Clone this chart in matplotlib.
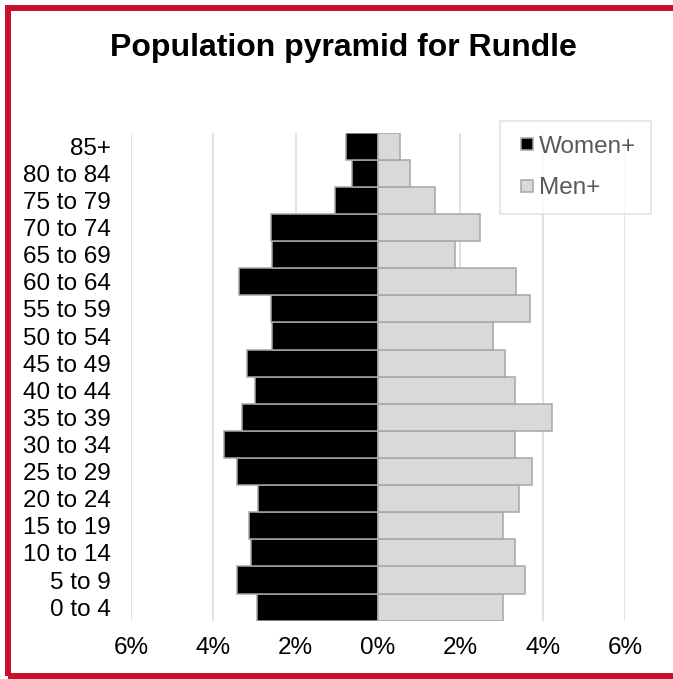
import numpy as np
import matplotlib.pyplot as plt
from matplotlib.patches import Rectangle
from matplotlib.lines import Line2D

plt.rcParams['font.family'] = ['Liberation Sans', 'DejaVu Sans']

# age groups from youngest (bottom) to oldest (top)
age_groups = ["0 to 4", "5 to 9", "10 to 14", "15 to 19", "20 to 24", "25 to 29",
              "30 to 34", "35 to 39", "40 to 44", "45 to 49", "50 to 54", "55 to 59",
              "60 to 64", "65 to 69", "70 to 74", "75 to 79", "80 to 84", "85+"]
women = [2.95, 3.42, 3.08, 3.13, 2.91, 3.42, 3.74, 3.31, 2.99, 3.18,
         2.57, 2.61, 3.37, 2.57, 2.61, 1.05, 0.63, 0.77]
men = [3.04, 3.57, 3.33, 3.04, 3.42, 3.75, 3.33, 4.23, 3.33, 3.08,
       2.79, 3.70, 3.36, 1.86, 2.47, 1.39, 0.77, 0.53]
xticks = [-6, -4, -2, 0, 2, 4, 6]

fig = plt.figure(figsize=(6.73, 6.79), dpi=100)
ax = fig.add_axes([131 / 673, 1 - 620.7 / 679, 494 / 673, 488 / 679])

y = np.arange(len(age_groups))
ax.barh(y, [-w for w in women], height=1.0, color="black", edgecolor="#A6A6A6",
        linewidth=1.1, zorder=3)
ax.barh(y, men, height=1.0, color="#D9D9D9", edgecolor="#A6A6A6",
        linewidth=1.1, zorder=3)

ax.set_xlim(-6, 6)
ax.set_ylim(-0.5, len(age_groups) - 0.5)
ax.set_xticks(xticks)
ax.set_xticklabels([f"{abs(t)}%" for t in xticks], fontsize=17.5)
ax.set_yticks(y)
ax.set_yticklabels(age_groups, fontsize=17.5)
ax.tick_params(length=0)
ax.tick_params(axis="y", pad=14.4)
ax.tick_params(axis="x", pad=12)
ax.grid(True, axis="x", color="#D9D9D9", linewidth=1.1, zorder=0)
for s in ax.spines.values():
  s.set_visible(False)

handles = [Line2D([], [], linestyle="none", marker="s", markersize=8,
                  markerfacecolor="black", markeredgecolor="#A6A6A6", markeredgewidth=1.1),
           Line2D([], [], linestyle="none", marker="s", markersize=8,
                  markerfacecolor="#D9D9D9", markeredgecolor="#A6A6A6", markeredgewidth=1.1)]
leg = ax.legend(handles, ["Women+", "Men+"], loc="upper right",
                bbox_to_anchor=(651 / 673, 1 - 121 / 679),
                bbox_transform=fig.transFigure, fontsize=17.5, frameon=True,
                fancybox=False, edgecolor="#D9D9D9", handlelength=1.0,
                handletextpad=0.0, labelspacing=0.8,
                borderpad=0.6, borderaxespad=0)
leg.get_frame().set_linewidth(1.1)
for t in leg.get_texts():
  t.set_color("#595959")

fig.text(343 / 673, 1 - 48 / 679, "Population pyramid for Rundle", ha="center",
         va="center", fontsize=23, fontweight="bold")

# red frame round the chart (right side runs off the picture)
fig.patches.append(Rectangle((8 / 673, 1 - 676 / 679), 700 / 673, 668 / 679,
                             transform=fig.transFigure, fill=False,
                             edgecolor="#C8102E", linewidth=4.3))

plt.savefig("out.png", dpi=100)
